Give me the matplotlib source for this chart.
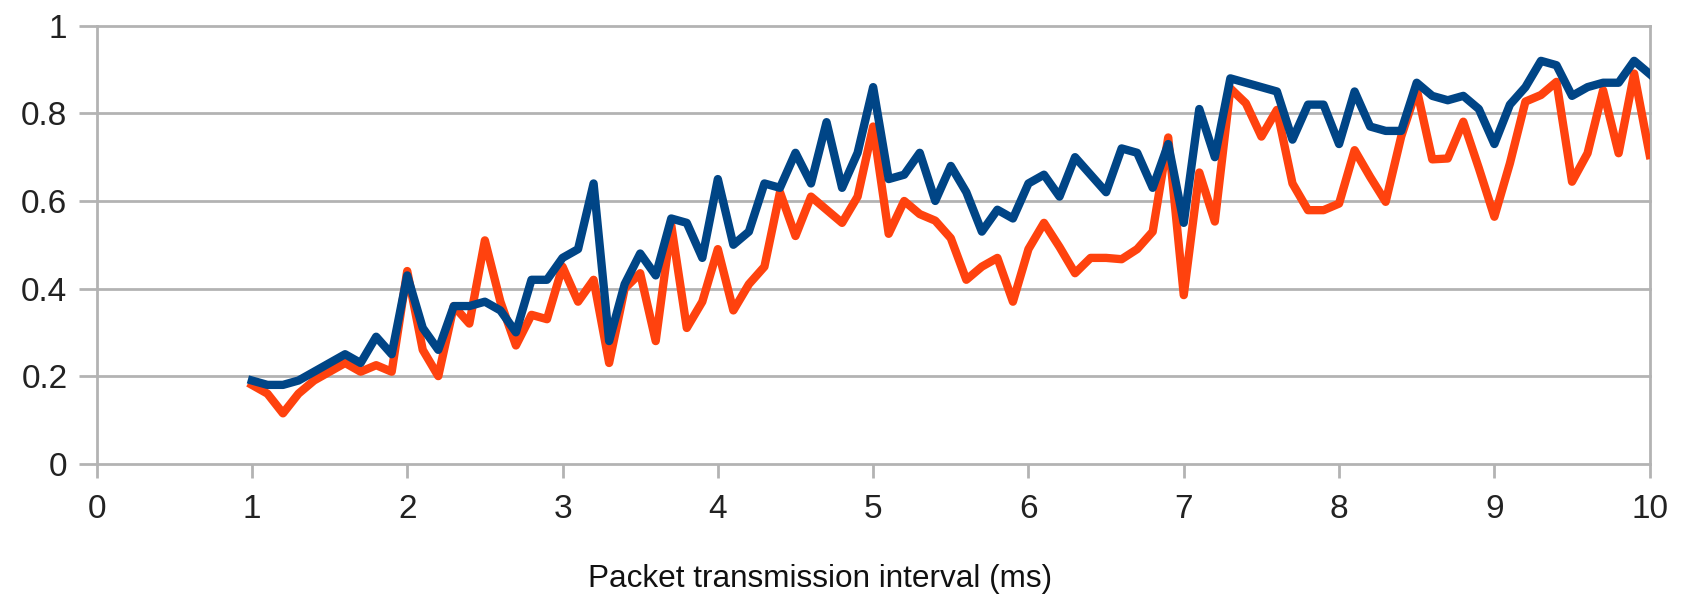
import matplotlib
matplotlib.use("Agg")
import matplotlib.pyplot as plt
from matplotlib.ticker import FuncFormatter

# packet transmission interval (ms)
interval_ms = [1.0, 1.1, 1.2, 1.3, 1.4, 1.5, 1.6, 1.7, 1.8, 1.9,
               2.0, 2.1, 2.2, 2.3, 2.4, 2.5, 2.6, 2.7, 2.8, 2.9,
               3.0, 3.1, 3.2, 3.3, 3.4, 3.5, 3.6, 3.7, 3.8, 3.9,
               4.0, 4.1, 4.2, 4.3, 4.4, 4.5, 4.6, 4.7, 4.8, 4.9,
               5.0, 5.1, 5.2, 5.3, 5.4, 5.5, 5.6, 5.7, 5.8, 5.9,
               6.0, 6.1, 6.2, 6.3, 6.4, 6.5, 6.6, 6.7, 6.8, 6.9,
               7.0, 7.1, 7.2, 7.3, 7.4, 7.5, 7.6, 7.7, 7.8, 7.9,
               8.0, 8.1, 8.2, 8.3, 8.4, 8.5, 8.6, 8.7, 8.8, 8.9,
               9.0, 9.1, 9.2, 9.3, 9.4, 9.5, 9.6, 9.7, 9.8, 9.9,
               10.0]

series_blue = [0.19, 0.18, 0.18, 0.19, 0.21, 0.23, 0.25, 0.23, 0.29, 0.25,
               0.43, 0.31, 0.26, 0.36, 0.36, 0.37, 0.35, 0.30, 0.42, 0.42,
               0.47, 0.49, 0.64, 0.28, 0.41, 0.48, 0.43, 0.56, 0.55, 0.47,
               0.65, 0.50, 0.53, 0.64, 0.63, 0.71, 0.64, 0.78, 0.63, 0.71,
               0.86, 0.65, 0.66, 0.71, 0.60, 0.68, 0.62, 0.53, 0.58, 0.56,
               0.64, 0.66, 0.61, 0.70, 0.66, 0.62, 0.72, 0.71, 0.63, 0.73,
               0.55, 0.81, 0.70, 0.88, 0.87, 0.86, 0.85, 0.74, 0.82, 0.82,
               0.73, 0.85, 0.77, 0.76, 0.76, 0.87, 0.84, 0.83, 0.84, 0.81,
               0.73, 0.82, 0.86, 0.92, 0.91, 0.84, 0.86, 0.87, 0.87, 0.92,
               0.89]

series_orange = [0.18, 0.16, 0.115, 0.16, 0.19, 0.21, 0.23, 0.21, 0.225, 0.21,
                 0.44, 0.26, 0.20, 0.36, 0.32, 0.51, 0.37, 0.27, 0.34, 0.33,
                 0.45, 0.37, 0.42, 0.23, 0.40, 0.435, 0.28, 0.545, 0.31, 0.37,
                 0.49, 0.35, 0.41, 0.45, 0.62, 0.52, 0.61, 0.58, 0.55, 0.61,
                 0.77, 0.525, 0.60, 0.57, 0.555, 0.515, 0.42, 0.45, 0.47, 0.37,
                 0.49, 0.55, 0.495, 0.435, 0.47, 0.47, 0.467, 0.49, 0.53, 0.745,
                 0.385, 0.665, 0.553, 0.857, 0.823, 0.747, 0.808, 0.64, 0.579, 0.579,
                 0.594, 0.716, 0.655, 0.598, 0.747, 0.855, 0.695, 0.697, 0.781, 0.675,
                 0.564, 0.686, 0.827, 0.842, 0.872, 0.644, 0.709, 0.853, 0.709, 0.891,
                 0.705]

x_ticks = [0, 1, 2, 3, 4, 5, 6, 7, 8, 9, 10]
y_ticks = [0, 0.2, 0.4, 0.6, 0.8, 1.0]

grey = "#b3b3b3"
plt.rcParams['font.family'] = ['Liberation Sans', 'DejaVu Sans']

fig = plt.figure(figsize=(16.83, 6.03), dpi=100)
ax = fig.add_axes([0.0574, 0.2310, 0.9802 - 0.0574, 0.9572 - 0.2310])

ax.plot(interval_ms, series_orange, color="#ff420e", lw=6,
        solid_joinstyle="round", zorder=3)
ax.plot(interval_ms, series_blue, color="#004586", lw=6,
        solid_joinstyle="round", zorder=4)

ax.set_xlim(0, 10)
ax.set_ylim(0, 1)
ax.set_xticks(x_ticks)
ax.set_yticks(y_ticks)
ax.yaxis.set_major_formatter(FuncFormatter(lambda v, p: "%g" % v))
ax.xaxis.set_major_formatter(FuncFormatter(lambda v, p: "%g" % v))

for yv in y_ticks[1:]:
    ax.axhline(yv, color=grey, lw=2.0, zorder=1, clip_on=False)

for side in ["left", "right", "bottom"]:
    ax.spines[side].set_color(grey)
    ax.spines[side].set_linewidth(2.0)
ax.spines["top"].set_visible(False)

ax.tick_params(axis="x", direction="out", length=10, width=2.0, color=grey,
               labelsize=24, pad=12, labelcolor="#222222")
ax.tick_params(axis="y", direction="out", length=13, width=2.0, color=grey,
               labelsize=24, pad=8, labelcolor="#222222")

fig.text(0.487, 0.0265, "Packet transmission interval (ms)", ha="center",
         va="baseline", fontsize=22.7, color="#111111")

fig.savefig("out.png", dpi=100)
